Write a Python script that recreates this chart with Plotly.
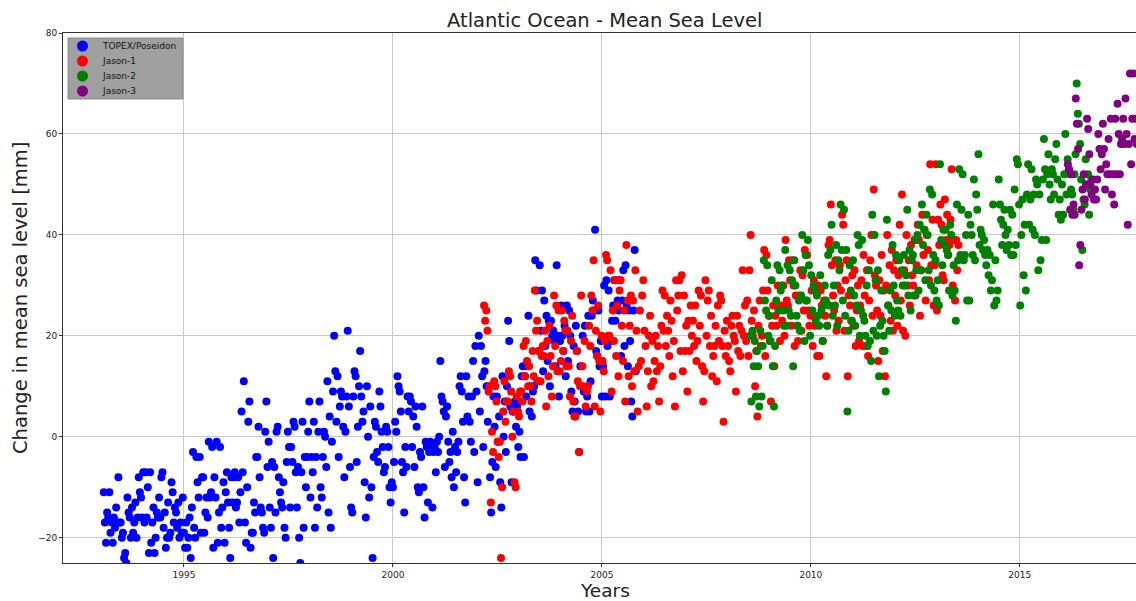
import plotly.graph_objects as go

# ---------------- data (mm, one value per ~9.9-day repeat cycle) ----------------
CYCLES_PER_YEAR = 37

topex_start = 1993.08
topex_mm = [
    -11, -17, -21, -15, -16, -11, -19, -17, -21, -16, -18, -14, -17, -8, -17, -17, -20, -19, -24, -23, -25, -12, -15, -16, -20, -14, -19, -17, -13, -20, -16, -8, -11, -12, -16, -7, -17,
    -7, -16, -10, -23, -7, -21, -17, -14, -23, -20, -15, -16, -12, -16, -8, -7, -18, -15, -22, -20, -13, -20, -19, -9, -11, -17, -14, -15, -18, -13, -20, -17, -19, -12, -19, -22, -17,
    -22, -20, -16, -24, -14, -3, -18, -20, -4, -9, -12, -4, -19, -8, -8, -19, -15, -12, -16, -1, -12, -11, -2, -22, -8, -12, -1, -21, -15, -2, -18, -14, -9, -21, -11, -7, -13,
    -18, -24, -8, -13, -8, -7, -14, -13, -8, -17, -11, 5, -7, 11, -17, -21, -10, 3, 7, -22, -19, -19, -13, -15, -4, -4, 2, -8, -14, -15, -18, -19, 1, 7, -6, -1, -14,
    -18, -5, -24, -6, -15, 1, 2, -8, -11, -13, -14, -9, -18, -20, -5, 1, -2, -14, -2, -5, 3, 2, -7, -14, -6, -20, -25, -7, 3, -18, -4, -10, -4, 1, 7, -12, -4,
    -7, 3, -18, -4, -14, 1, 7, -10, -12, -4, 1, 0, -6, 11, -15, 4, -18, -1, 9, 20, 13, 3, 12, -4, 6, 9, 8, 2, -8, 1, 8, 21, 6, -6, -14, -15, 8,
    13, 12, -5, 2, 10, 17, 8, 3, 5, -9, -16, 10, 0, -12, 6, -10, -24, -4, 3, 2, -3, -5, 9, 6, 1, -2, -7, -6, 2, 1, -2, -10, -13, -9, -10, -5, 3,
    1, 12, 10, 9, 5, -5, -7, -15, -2, -6, 8, 5, 8, 7, -2, 4, -6, 6, 2, -10, -11, -3, -4, 6, -10, -16, -1, -2, -13, -3, -1, -2, -14, -3, -2, -7, -1,
    -3, 0, 15, 8, 7, 5, -6, 4, 6, -1, -5, -3, -8, 1, -10, -2, -7, -3, -1, 10, 12, 9, 3, -8, -13, 12, 4, 8, 3, -1, 8, 15, -3, 18, 9, -9, 20,
    5, 18, 12, -2, 13, 15, 10, 3, 10, -8, -15, -5, 8, 2, -6, 8, -1, 4, -9, -14, 12, 0, 7, -3, 10, 23, 19, 6, -9, 5, 5, 7, 2, 6, -2, 1, -4,
    12, 14, -4, 12, 8, 14, 24, 5, 10, 4, 9, 10, 35, 29, 11, 17, 34, 21, 29, 13, 27, 18, 24, 15, 23, 10, 23, 20, 21, 19, 14, 34, 20, 8, 19, 26, 20,
    17, 22, 12, 26, 15, 25, 20, 9, 5, 18, 7, 22, 17, 5, -3, 14, 10, 20, 9, 22, 5, 8, 24, 5, 11, 24, 27, 25, 41, 17, 16, 25, 14, 19, 8, 14, 30,
    8, 31, 18, 29, 8, 19, 23, 26, 31, 23, 31, 27, 25, 31, 16, 27, 33, 18, 34, 26, 14, 25, 19, 7, 4, 25, 37, 13,
]

jason1_start = 2002.18
jason1_mm = [
    26, 23, 25, 21, 9, 10, -13, 1, -3, 11, 10, 7, -1, -4, -1, -24, -10, 5, 11, 3, 7, 7, 13, 12, 9, 0, 5, -9, -10, 8, 5, 4, 9, 9, 7, 18, 12,
    19, 15, 10, 14, 10, 7, 17, 12, 29, 21, 23, 11, 17, 11, 16, 18, 16, 21, 6, 19, 12, 22, 16, 8, 14, 28, 18, 26, 13, 25, 13, 15, 25, 17, 23, 21, 14,
    21, 14, 8, 19, 24, 7, 4, 4, 17, 11, -3, 10, 28, 14, 10, 19, 6, 9, 10, 22, 18, 28, 25, 35, 6, 21, 16, 26, 15, 5, 20, 15, 13, 19, 36, 35, 20,
    20, 33, 9, 25, 19, 31, 16, 26, 12, 29, 31, 22, 15, 25, 7, 38, 27, 12, 22, 28, 10, 27, 13, 33, 21, 5, 14, 25, 15, 28, 31, 21, 18, 6, 13, 20, 24,
    10, 19, 11, 15, 20, 13, 18, 7, 14, 22, 29, 21, 28, 18, 24, 21, 16, 27, 23, 12, 19, 6, 31, 25, 28, 31, 17, 32, 13, 28, 17, 22, 9, 23, 17, 26, 20,
    23, 18, 26, 15, 19, 29, 22, 28, 14, 7, 13, 31, 20, 27, 29, 18, 24, 12, 16, 18, 22, 11, 26, 19, 28, 27, 18, 3, 21, 16, 23, 18, 15, 13, 22, 24, 20,
    19, 9, 24, 17, 22, 16, 21, 33, 20, 26, 19, 27, 16, 33, 40, 23, 20, 25, 10, 17, 4, 22, 27, 18, 20, 29, 37, 16, 36, 29, 24, 19, 7, 22, 26, 14, 24,
    22, 30, 25, 19, 26, 23, 30, 20, 39, 27, 26, 35, 31, 22, 35, 30, 18, 28, 22, 19, 28, 33, 21, 32, 25, 37, 27, 36, 25, 22, 24, 29, 18, 31, 22, 30, 16,
    30, 16, 29, 26, 19, 27, 24, 12, 22, 38, 39, 46, 34, 28, 25, 35, 21, 30, 23, 34, 29, 44, 42, 21, 31, 35, 12, 28, 26, 23, 32, 22, 33, 18, 25, 30, 19,
    26, 31, 18, 36, 28, 18, 33, 16, 27, 35, 40, 24, 49, 32, 30, 25, 15, 31, 24, 36, 17, 29, 12, 30, 40, 26, 34, 23, 37, 21, 33, 28, 35, 22, 32, 42, 27,
    48, 21, 33, 20, 40, 30, 35, 26, 38, 32, 30, 39, 28, 34, 42, 39, 24, 33, 44, 36, 41, 27, 40, 37, 31, 54, 34, 43, 26, 34, 54, 25, 43, 38, 46, 42, 32,
    31, 47, 39, 44, 36, 38, 43, 53, 30, 39, 27, 39, 33, 38,
]

jason2_start = 2008.55
jason2_mm = [
    20, 7, 21, 14, 19, 8, 17, 14, 6, 21, 8, 18, 35, 27, 25, 34, 20, 24, 19, 31, 14, 6, 18, 27, 34, 25, 33, 29, 30, 25, 22, 37, 22, 34, 25, 33, 24,
    31, 14, 35, 30, 24, 22, 27, 21, 28, 40, 33, 19, 36, 27, 39, 34, 20, 32, 25, 30, 29, 23, 28, 24, 22, 32, 25, 19, 26, 30, 27, 22, 36, 26, 37, 42, 24,
    30, 26, 38, 22, 35, 33, 46, 37, 27, 45, 24, 37, 5, 21, 34, 29, 23, 35, 28, 22, 26, 40, 38, 20, 25, 39, 24, 23, 20, 30, 18, 33, 19, 15, 44, 21, 40,
    31, 20, 33, 12, 22, 29, 23, 20, 17, 9, 43, 26, 21, 29, 25, 38, 30, 24, 36, 27, 25, 35, 24, 33, 30, 36, 30, 32, 45, 28, 37, 25, 35, 36, 28, 39, 33,
    40, 29, 42, 33, 46, 38, 41, 31, 44, 40, 33, 49, 30, 48, 36, 29, 35, 27, 31, 26, 54, 39, 34, 41, 38, 41, 37, 36, 29, 42, 40, 28, 34, 29, 23, 46, 35,
    53, 36, 45, 52, 35, 36, 40, 27, 44, 27, 42, 40, 36, 51, 35, 48, 45, 56, 38, 41, 40, 37, 39, 36, 34, 37, 32, 36, 29, 31, 46, 26, 35, 27, 29, 51, 46,
    43, 38, 42, 45, 40, 37, 41, 38, 45, 36, 44, 36, 49, 38, 55, 54, 46, 26, 40, 47, 32, 42, 29, 48, 54, 42, 47, 53, 41, 48, 40, 51, 50, 33, 48, 35, 39,
    51, 59, 53, 39, 52, 56, 50, 47, 53, 52, 48, 55, 58, 51, 44, 47, 43, 50, 44, 52, 60, 48, 55, 53, 52, 49, 48, 45, 52, 56, 70, 64, 62, 58, 51, 37, 47,
    46, 55, 50, 52, 44, 49, 51,
]

jason3_start = 2016.15
jason3_mm = [
    54, 53, 45, 52, 44, 46, 44, 67, 62, 57, 34, 38, 45, 49, 52, 47, 50, 63, 61, 56, 50, 48, 51, 47, 49, 47, 51, 60, 57, 53, 56, 62, 57, 49, 54, 52, 59,
    52, 63, 48, 52, 46, 63, 52, 66, 60, 52, 58, 59, 63, 58, 67, 60, 42, 58, 72, 54, 63, 72, 59, 63, 58,
]

series_names = ["TOPEX/Poseidon", "Jason-1", "Jason-2", "Jason-3"]
series_starts = [topex_start, jason1_start, jason2_start, jason3_start]
series_values = [topex_mm, jason1_mm, jason2_mm, jason3_mm]
series_colors = ["#0000ff", "#ff0000", "#008000", "#800080"]

x_ticks = [1995, 2000, 2005, 2010, 2015]
y_ticks = [-20, 0, 20, 40, 60, 80]

FONT = "DejaVu Sans"

W, H = 1136, 601
ML, MR, MT, MB = 63, 0, 33, 38
PW, PH = W - ML - MR, H - MT - MB

fig = go.Figure()
for name, start, vals, color in zip(series_names, series_starts, series_values, series_colors):
    years = [start + i / CYCLES_PER_YEAR for i in range(len(vals))]
    fig.add_trace(go.Scatter(
        x=years, y=vals, mode="markers", name=name, showlegend=False,
        marker=dict(color=color, size=8, line=dict(width=0)),
    ))

axis_common = dict(
    showgrid=True, gridcolor="#c8c8c8", gridwidth=1,
    showline=True, linecolor="#333333", linewidth=1, mirror=True,
    ticks="outside", ticklen=3, tickcolor="#333333",
    tickfont=dict(family=FONT, size=9, color="#222222"),
    zeroline=False,
)

# legend box drawn in the upper-left corner (pixel offsets from the plot corner)
def px_x(p):
    return p / PW

def px_y(p):
    return 1 - p / PH

shapes = [dict(type="rect", xref="paper", yref="paper",
               x0=px_x(5), x1=px_x(120), y0=px_y(66), y1=px_y(5),
               fillcolor="#a0a0a0", line=dict(color="#8c8c8c", width=1), layer="above")]
annotations = []
R = 5.5
for k, (name, color) in enumerate(zip(series_names, series_colors)):
    cy = 13 + 15 * k
    shapes.append(dict(type="circle", xref="paper", yref="paper",
                       x0=px_x(19.5 - R), x1=px_x(19.5 + R),
                       y0=px_y(cy + R), y1=px_y(cy - R),
                       fillcolor=color, line=dict(width=0), layer="above"))
    annotations.append(dict(text=name, xref="paper", yref="paper",
                            x=px_x(37), y=px_y(cy), xanchor="left", yanchor="middle",
                            showarrow=False, font=dict(family=FONT, size=9, color="#111111")))

annotations += [
    dict(text="Atlantic Ocean - Mean Sea Level", xref="paper", yref="paper",
         x=px_x(542), y=1, yshift=13, xanchor="center", yanchor="middle",
         showarrow=False, font=dict(family=FONT, size=19.5, color="#222222")),
    dict(text="Years", xref="paper", yref="paper", x=px_x(542), y=0, yshift=-27,
         xanchor="center", yanchor="middle", showarrow=False, borderpad=0,
         font=dict(family=FONT, size=18.5, color="#222222")),
    dict(text="Change in mean sea level [mm]", xref="paper", yref="paper",
         x=0, xshift=-43, y=0.5, xanchor="center", yanchor="middle",
         textangle=-90, showarrow=False,
         font=dict(family=FONT, size=19.5, color="#222222")),
]

fig.update_layout(
    width=W, height=H,
    margin=dict(l=ML, r=MR, t=MT, b=MB, autoexpand=False),
    paper_bgcolor="white", plot_bgcolor="white",
    font=dict(family=FONT, color="#222222"),
    showlegend=False,
    xaxis=dict(range=[1992.105, 2017.78], tickvals=x_ticks, **axis_common),
    yaxis=dict(range=[-25, 80], tickvals=y_ticks, **axis_common),
    shapes=shapes,
    annotations=annotations,
)

fig.write_html(
    "out.html",
    config={"displayModeBar": False},
    post_script="document.body.style.margin='0';document.body.style.overflow='hidden';",
)
